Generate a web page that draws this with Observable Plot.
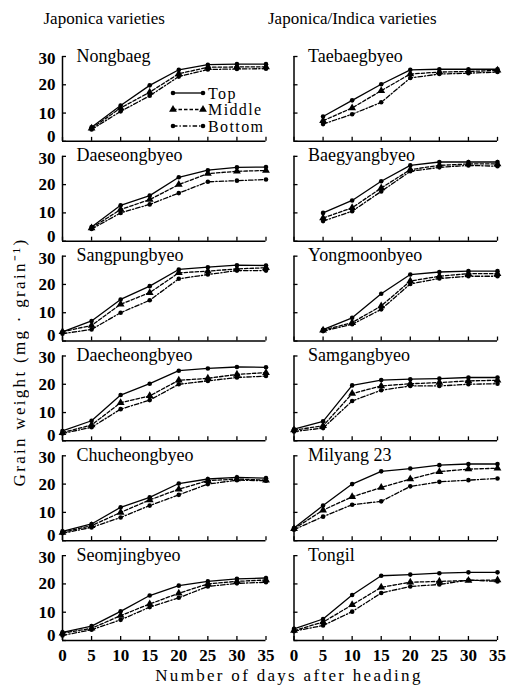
<!DOCTYPE html>
<html><head><meta charset="utf-8">
<script src="https://cdn.jsdelivr.net/npm/d3@7"></script>
<script src="https://cdn.jsdelivr.net/npm/@observablehq/plot@0.6"></script>
<style>
body{margin:0;background:#fff}
svg{display:block}
svg, svg text{font-family:"Liberation Serif","Times New Roman",serif}
</style>
</head><body><div id="chart"></div><script>
// ---------- data ----------
const columns = ["Japonica varieties", "Japonica/Indica varieties"];
const leftVarieties = ["Nongbaeg", "Daeseongbyeo", "Sangpungbyeo", "Daecheongbyeo", "Chucheongbyeo", "Seomjingbyeo"];
const rightVarieties = ["Taebaegbyeo", "Baegyangbyeo", "Yongmoonbyeo", "Samgangbyeo", "Milyang 23", "Tongil"];
const days = [0, 5, 10, 15, 20, 25, 30, 35];
const layers = ["Top", "Middle", "Bottom"];
const yTicks = [0, 10, 20, 30];
const xTicks = [0, 5, 10, 15, 20, 25, 30, 35];

// values per day (0..35), rows = Top, Middle, Bottom; null = not measured
const nongbaeg = [
  [null, 5.0, 12.7, 19.8, 25.3, 27.1, 27.3, 27.3],
  [null, 4.6, 11.8, 17.4, 23.9, 26.2, 26.3, 26.3],
  [null, 4.2, 10.6, 16.1, 22.9, 25.4, 25.6, 25.7]];
const daeseongbyeo = [
  [null, 5.0, 12.7, 16.1, 22.6, 25.1, 26.1, 26.2],
  [null, 4.7, 11.2, 14.7, 20.0, 23.9, 24.7, 25.0],
  [null, 4.3, 10.0, 13.0, 17.0, 21.0, 21.4, 21.8]];
const sangpungbyeo = [
  [3.2, 7.1, 14.7, 19.4, 25.3, 26.1, 26.8, 26.7],
  [3.3, 5.5, 13.0, 17.1, 24.1, 24.7, 25.5, 25.9],
  [2.6, 4.1, 10.0, 14.4, 22.0, 23.5, 24.9, 24.9]];
const daecheongbyeo = [
  [3.5, 7.1, 16.2, 20.2, 24.8, 25.6, 26.1, 26.0],
  [2.9, 5.6, 13.5, 15.9, 21.4, 22.1, 23.5, 24.1],
  [2.6, 4.8, 11.2, 14.4, 20.0, 21.2, 22.4, 22.9]];
const chucheongbyeo = [
  [3.3, 5.9, 11.8, 15.3, 20.2, 21.8, 22.4, 22.1],
  [2.9, 5.3, 10.0, 14.4, 18.2, 21.2, 21.8, 21.4],
  [2.6, 4.7, 8.2, 12.4, 16.2, 20.0, 21.4, 21.2]];
const seomjingbyeo = [
  [2.9, 5.1, 10.3, 15.9, 19.4, 20.9, 21.8, 22.1],
  [2.6, 4.3, 8.8, 12.9, 16.7, 20.0, 20.9, 21.4],
  [1.8, 3.8, 7.3, 11.8, 15.1, 19.1, 20.2, 20.6]];
const taebaegbyeo = [
  [null, 8.8, 14.5, 20.2, 25.3, 25.5, 25.5, 25.5],
  [null, 7.3, 11.8, 17.9, 23.8, 24.5, 24.7, 25.1],
  [null, 6.1, 9.6, 13.8, 22.4, 23.8, 24.1, 24.5]];
const baegyangbyeo = [
  [null, 10.0, 14.4, 21.2, 26.8, 28.0, 28.0, 28.0],
  [null, 8.2, 11.8, 18.8, 25.3, 26.8, 27.3, 27.3],
  [null, 7.1, 10.6, 17.6, 24.7, 26.1, 26.8, 26.5]];
const yongmoonbyeo = [
  [null, 4.0, 8.2, 16.7, 23.5, 24.4, 24.7, 24.7],
  [null, 3.8, 6.5, 12.4, 21.2, 22.9, 23.8, 23.8],
  [null, 3.5, 5.9, 11.2, 20.2, 22.1, 22.9, 22.9]];
const samgangbyeo = [
  [4.1, 6.9, 19.6, 21.5, 21.8, 22.0, 22.4, 22.4],
  [3.8, 5.3, 16.7, 19.4, 20.2, 20.6, 21.2, 21.4],
  [3.3, 4.5, 14.1, 17.9, 19.4, 19.4, 20.0, 20.2]];
const milyang23 = [
  [4.5, 12.4, 20.0, 24.5, 25.5, 26.7, 27.1, 27.1],
  [4.2, 10.8, 15.5, 18.8, 21.8, 24.4, 25.3, 25.6],
  [3.9, 8.5, 12.7, 13.9, 19.2, 20.8, 21.4, 22.0]];
const tongil = [
  [4.1, 7.6, 16.1, 22.9, 23.3, 23.8, 24.1, 24.1],
  [3.5, 6.5, 12.6, 18.8, 20.6, 20.9, 21.2, 21.4],
  [3.3, 5.3, 10.2, 16.8, 19.1, 19.8, 21.4, 20.9]];

const leftSeries = [nongbaeg, daeseongbyeo, sangpungbyeo, daecheongbyeo, chucheongbyeo, seomjingbyeo];
const rightSeries = [taebaegbyeo, baegyangbyeo, yongmoonbyeo, samgangbyeo, milyang23, tongil];

// ---------- tidy table ----------
const panels = [];
const rows = [];
[[leftVarieties, leftSeries, columns[0]], [rightVarieties, rightSeries, columns[1]]].forEach(([names, series, col]) => {
  names.forEach((name, r) => {
    panels.push({name, col, row: r});
    layers.forEach((layer, li) => {
      days.forEach((day, di) => {
        const v = series[r][li][di];
        if (v != null) rows.push({variety: name, col, row: r, layer, day, value: v});
      });
    });
  });
});

const dash = {Top: null, Middle: "3.5,2", Bottom: "4.5,2,1.3,2"};
const sym = {Top: "circle", Middle: "triangle", Bottom: "circle"};
const FONT = '"Liberation Serif", "Times New Roman", serif';
const M = {left: 62, right: 18, top: 56, bottom: 52};

const yLabelOpts = {tickSize: 0, tickPadding: 7, facetAnchor: "left", label: null, fontSize: 17, fontWeight: "bold", fill: "#000"};

const chart = Plot.plot({
  width: 515,
  height: 692,
  marginLeft: M.left,
  marginRight: M.right,
  marginTop: M.top,
  marginBottom: M.bottom,
  style: {background: "#fff", color: "#000", fontFamily: FONT},
  x: {domain: [0, 35]},
  y: {domain: [0, 30]},
  fx: {domain: columns, axis: null, paddingInner: 0.121, paddingOuter: 0, round: false},
  fy: {domain: [0, 1, 2, 3, 4, 5], axis: null, paddingInner: 0.15, paddingOuter: 0, round: false},
  marks: [
    Plot.ruleX([0], {stroke: "#000", strokeWidth: 1.5}),
    Plot.ruleY([0], {stroke: "#000", strokeWidth: 1.5}),
    Plot.axisY({ticks: yTicks, tickSize: -4, tickFormat: () => "", facetAnchor: null, label: null, strokeWidth: 1.3}),
    Plot.axisY({...yLabelOpts, ticks: yTicks.filter(t => t > 0 && t < 30)}),
    Plot.axisY({...yLabelOpts, ticks: yTicks.filter(t => t === 30), dy: 2}),
    Plot.axisY({...yLabelOpts, ticks: yTicks.filter(t => t === 0), dy: -5}),
    Plot.axisX({ticks: xTicks, tickSize: -4, tickFormat: () => "", facetAnchor: null, label: null, strokeWidth: 1.3}),
    Plot.axisX({ticks: xTicks, tickSize: 0, tickPadding: 8, facetAnchor: "bottom", label: null, fontSize: 17, fontWeight: "bold", fill: "#000"}),
    ...layers.map(l => Plot.line(rows.filter(d => d.layer === l), {
      x: "day", y: "value", fx: "col", fy: "row", z: "variety",
      stroke: "#000", strokeWidth: 1.3, strokeDasharray: dash[l]
    })),
    ...layers.map(l => Plot.dot(rows.filter(d => d.layer === l), {
      x: "day", y: "value", fx: "col", fy: "row",
      symbol: sym[l], fill: "#000", stroke: "none", r: l === "Middle" ? 2.9 : 2.3
    })),
    Plot.text(panels, {
      fx: "col", fy: "row", text: "name", frameAnchor: "top-left", textAnchor: "start",
      lineAnchor: "bottom", dx: 14, dy: 5, fontSize: 18, fill: "#000", ariaLabel: "panel-title"
    }),
    Plot.text([columns[0]], {
      fx: d => d, fy: () => 0, text: d => d, frameAnchor: "top-left", textAnchor: "start",
      lineAnchor: "bottom", dx: -19, dy: -33, fontSize: 17, fill: "#000", ariaLabel: "col-header"
    }),
    Plot.text([columns[1]], {
      fx: d => d, fy: () => 0, text: d => d, frameAnchor: "top-left", textAnchor: "start",
      lineAnchor: "bottom", dx: -26, dy: -33, fontSize: 17, fill: "#000", ariaLabel: "col-header"
    })
  ]
});

document.getElementById("chart").appendChild(chart);

const svg = d3.select(chart);
svg.attr("font-family", FONT);
svg.selectAll('g[aria-label="panel-title"] text').attr("letter-spacing", 2);
svg.selectAll('g[aria-label="col-header"] text').attr("letter-spacing", 2.2);

// legend inside the first panel (Nongbaeg): facet origin = top-left margins
const lg = svg.append("g").attr("transform", `translate(${M.left},${M.top})`);
layers.forEach((l, i) => {
  const y = 37 + i * 16.5;
  lg.append("line").attr("x1", 111).attr("x2", 141).attr("y1", y).attr("y2", y)
    .attr("stroke", "#000").attr("stroke-width", 1.3)
    .attr("stroke-dasharray", dash[l]);
  const s = d3.symbol().type(sym[l] === "triangle" ? d3.symbolTriangle : d3.symbolCircle)
    .size(sym[l] === "triangle" ? 2.9 * 2.9 * Math.PI : 2.3 * 2.3 * Math.PI);
  [111, 141].forEach(x => lg.append("path").attr("d", s()).attr("transform", `translate(${x},${y})`).attr("fill", "#000"));
  lg.append("text").attr("x", 146).attr("y", y).attr("dy", "0.35em").attr("text-anchor", "start")
    .attr("font-size", 16).attr("letter-spacing", 1.4).attr("fill", "#000").text(l);
});

// axis titles
svg.append("text").attr("x", 289).attr("y", 681).attr("text-anchor", "middle")
  .attr("font-size", 17).attr("letter-spacing", 2.3).attr("fill", "#000")
  .text("Number of days after heading");
svg.append("text").attr("transform", "translate(25,362) rotate(-90)").attr("text-anchor", "middle")
  .attr("font-size", 17).attr("letter-spacing", 2.3).attr("fill", "#000")
  .style("opacity", 0.999)
  .text("Grain weight (mg · grain⁻¹)");
</script></body></html>
